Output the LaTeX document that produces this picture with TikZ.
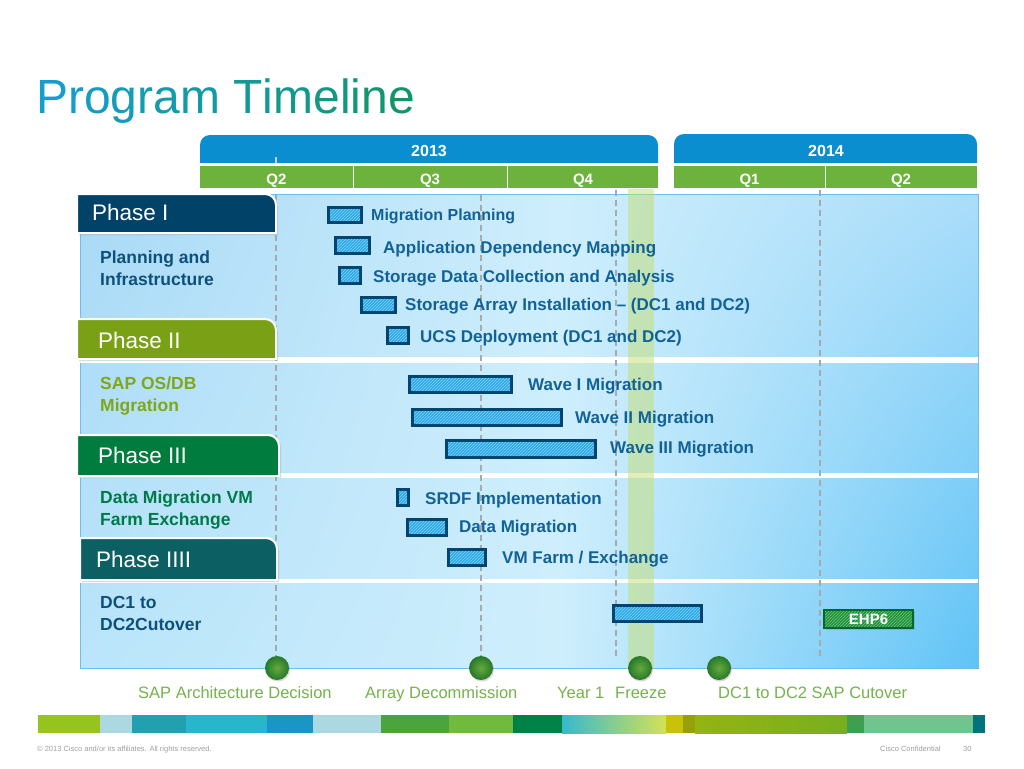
\documentclass[tikz,border=0pt]{standalone}
\usepackage{fontspec}
\setmainfont{Liberation Sans}
\usetikzlibrary{patterns,shadows,shadings}
\definecolor{ttl}{RGB}{20,158,205}
\definecolor{ttr}{RGB}{18,150,105}
\definecolor{headblue}{RGB}{10,142,208}
\definecolor{qgreen}{RGB}{110,178,62}
\definecolor{phaseA}{RGB}{0,66,104}
\definecolor{phaseB}{RGB}{122,160,22}
\definecolor{phaseC}{RGB}{0,124,62}
\definecolor{phaseD}{RGB}{12,96,100}
\definecolor{sectblue}{RGB}{14,80,124}
\definecolor{sectolive}{RGB}{128,168,22}
\definecolor{sectgreen}{RGB}{0,122,72}
\definecolor{taskblue}{RGB}{18,98,152}
\definecolor{barline}{RGB}{0,68,112}
\definecolor{barfill}{RGB}{40,168,232}
\definecolor{barhatch}{RGB}{140,212,245}
\definecolor{ehpfill}{RGB}{28,145,62}
\definecolor{ehpline}{RGB}{0,105,48}
\definecolor{ehphatch}{RGB}{120,195,120}
\definecolor{panelTL}{RGB}{168,217,246}
\definecolor{panelBL}{RGB}{186,229,250}
\definecolor{panelM}{RGB}{206,238,252}
\definecolor{panelTR}{RGB}{170,221,250}
\definecolor{panelBR}{RGB}{95,195,246}
\definecolor{panelEdge}{RGB}{110,190,235}
\definecolor{vgray}{RGB}{165,170,175}
\definecolor{freeze}{RGB}{196,222,112}
\definecolor{msin}{RGB}{100,170,62}
\definecolor{msout}{RGB}{40,120,42}
\definecolor{mstext}{RGB}{118,178,78}
\definecolor{foot}{RGB}{160,160,160}
\begin{document}
\begin{tikzpicture}[x=1pt,y=-1pt,
  hdr/.style={anchor=base, inner sep=0, text=white, font=\fontsize{16}{18}\selectfont\bfseries},
  qlab/.style={anchor=base, inner sep=0, text=white, font=\fontsize{15}{17}\selectfont\bfseries},
  phasebox/.style={draw=white, line width=2pt, drop shadow={opacity=0.3, shadow xshift=2pt, shadow yshift=-2pt}},
  phaselab/.style={anchor=base west, inner sep=0, text=white, font=\fontsize{22.5}{25}\selectfont},
  seclab/.style={anchor=base west, inner sep=0, font=\fontsize{17.5}{20}\selectfont\bfseries},
  tasklab/.style={anchor=base west, inner sep=0, text=taskblue, font=\fontsize{17}{20}\selectfont\bfseries},
  bar/.style={inner sep=0,
    drop shadow={opacity=0.35, shadow xshift=1.5pt, shadow yshift=-1.5pt},
    preaction={fill=barfill}, pattern=north east lines, pattern color=barhatch,
    postaction={draw=barline, line width=2.6pt}},
  ehpbar/.style={inner sep=0,
    drop shadow={opacity=0.35, shadow xshift=1.5pt, shadow yshift=-1.5pt},
    preaction={fill=ehpfill}, pattern=north east lines, pattern color=ehphatch,
    postaction={draw=ehpline, line width=2pt}},
  vdash/.style={draw=vgray, line width=1.4pt, dash pattern=on 6pt off 4pt},
  milestone/.style={circle, minimum size=24pt, inner sep=0, shading=radial,
    inner color=msin, outer color=msout,
    drop shadow={opacity=0.3, shadow xshift=1pt, shadow yshift=-1.5pt}},
  mslab/.style={anchor=base west, inner sep=0, text=mstext, font=\fontsize{16.5}{19}\selectfont},
  footlab/.style={anchor=base west, inner sep=0, text=foot, font=\fontsize{7.5}{9}\selectfont}
]
\fill[white] (0,0) rectangle (1024,768);
\useasboundingbox (0,0) rectangle (1024,768);

% title
\node[anchor=base west, inner sep=0, font=\fontsize{48}{52}\selectfont] (title) at (36,113)
{\textcolor{ttl!100!ttr}{P}\textcolor{ttl!94!ttr}{r}\textcolor{ttl!87!ttr}{o}\textcolor{ttl!80!ttr}{g}\textcolor{ttl!74!ttr}{r}\textcolor{ttl!67!ttr}{a}\textcolor{ttl!60!ttr}{m} \textcolor{ttl!47!ttr}{T}\textcolor{ttl!40!ttr}{i}\textcolor{ttl!33!ttr}{m}\textcolor{ttl!27!ttr}{e}\textcolor{ttl!20!ttr}{l}\textcolor{ttl!13!ttr}{i}\textcolor{ttl!7!ttr}{n}\textcolor{ttl!0!ttr}{e}};

% year headers
\fill[headblue, rounded corners=10pt] (200,163) -- (200,135) -- (658,135) -- (658,163);
\fill[headblue, rounded corners=10pt] (674,163) -- (674,134) -- (977,134) -- (977,163);
\node[hdr] (y2013) at (429,156) {2013};
\node[hdr] (y2014) at (826,156) {2014};

% quarter cells
\fill[qgreen] (200,166) rectangle (352.5,188);
\fill[qgreen] (354,166) rectangle (506.5,188);
\fill[qgreen] (508,166) rectangle (658,188);
\fill[qgreen] (674,166) rectangle (824.5,188);
\fill[qgreen] (826,166) rectangle (977,188);
\node[qlab] (q2a) at (276.5,184) {Q2};
\node[qlab] (q3) at (430,184) {Q3};
\node[qlab] (q4) at (583,184) {Q4};
\node[qlab] (q1) at (749.5,184) {Q1};
\node[qlab] (q2b) at (901,184) {Q2};

% panel
\shade[upper left=panelTL, lower left=panelBL, upper right=panelM, lower right=panelM] (80,194) rectangle (560,668);
\shade[upper left=panelM, lower left=panelM, upper right=panelTR, lower right=panelBR] (559.5,194) rectangle (978,668);
\draw[panelEdge, line width=0.8pt] (80,194) rectangle (978,668);
\fill[white] (80,357) rectangle (978,362.5);
\fill[white] (80,473) rectangle (978,478);
\fill[white] (80,579) rectangle (978,583);

% dashed quarter lines
\draw[draw=vgray!60, line width=1.2pt] (276,157) -- (276,163);
\draw[vdash] (276,195) -- (276,656);
\draw[vdash] (481,195) -- (481,656);
\draw[vdash] (616,190) -- (616,656);
\draw[vdash] (820,190) -- (820,656);

% freeze band
\fill[freeze, opacity=0.5] (628,189) rectangle (654,668);

% phase boxes
\path[phasebox, fill=phaseA] (77,233) -- (77,194) [rounded corners=11pt] -- (276,194) [sharp corners] -- (276,233) -- cycle;
\path[phasebox, fill=phaseB] (77,359) -- (77,319) [rounded corners=11pt] -- (276,319) [sharp corners] -- (276,359) -- cycle;
\path[phasebox, fill=phaseC] (77,476) -- (77,435) [rounded corners=11pt] -- (279,435) [sharp corners] -- (279,476) -- cycle;
\path[phasebox, fill=phaseD] (80,580) -- (80,538) [rounded corners=11pt] -- (277,538) [sharp corners] -- (277,580) -- cycle;
\node[phaselab] (p1) at (92,220) {Phase I};
\node[phaselab] (p2) at (98,348) {Phase II};
\node[phaselab] (p3) at (98,463) {Phase III};
\node[phaselab] (p4) at (96,567) {Phase IIII};

% section labels
\node[seclab, text=sectblue] (s1a) at (100,263) {Planning and};
\node[seclab, text=sectblue] (s1b) at (100,285) {Infrastructure};
\node[seclab, text=sectolive] (s2a) at (100,389) {SAP OS/DB};
\node[seclab, text=sectolive] (s2b) at (100,411) {Migration};
\node[seclab, text=sectgreen] (s3a) at (100,503) {Data Migration VM};
\node[seclab, text=sectgreen] (s3b) at (100,525) {Farm Exchange};
\node[seclab, text=sectblue] (s4a) at (100,608) {DC1 to};
\node[seclab, text=sectblue] (s4b) at (100,630) {DC2Cutover};

% task bars
\node[bar, minimum width=33pt, minimum height=15pt] (b1) at (345,215) {};
\node[bar, minimum width=34pt, minimum height=16pt] (b2) at (352.5,245.5) {};
\node[bar, minimum width=21pt, minimum height=16pt] (b3) at (350,275.5) {};
\node[bar, minimum width=34pt, minimum height=15pt] (b4) at (378.5,305) {};
\node[bar, minimum width=21pt, minimum height=16pt] (b5) at (398,335.5) {};
\node[bar, minimum width=102pt, minimum height=16pt] (b6) at (460.5,384.5) {};
\node[bar, minimum width=149pt, minimum height=16pt] (b7) at (487,417.5) {};
\node[bar, minimum width=149pt, minimum height=17pt] (b8) at (521,449) {};
\node[bar, minimum width=11pt, minimum height=16pt] (b9) at (403,497.5) {};
\node[bar, minimum width=39pt, minimum height=16pt] (b10) at (427,527.5) {};
\node[bar, minimum width=37pt, minimum height=16pt] (b11) at (467,557.5) {};
\node[bar, minimum width=88pt, minimum height=16pt] (b12) at (657.5,613.5) {};
\node[ehpbar, minimum width=89pt, minimum height=18pt, text=white, font=\fontsize{15}{17}\selectfont\bfseries] (b13) at (868.5,619) {EHP6};

% task labels
\node[tasklab, font=\fontsize{16}{19}\selectfont\bfseries] (t1) at (371,220) {Migration Planning};
\node[tasklab] (t2) at (383,253) {Application Dependency Mapping};
\node[tasklab] (t3) at (373,282) {Storage Data Collection and Analysis};
\node[tasklab] (t4) at (405,310) {Storage Array Installation – (DC1 and DC2)};
\node[tasklab] (t5) at (420,342) {UCS Deployment (DC1 and DC2)};
\node[tasklab] (t6) at (528,390) {Wave I Migration};
\node[tasklab] (t7) at (575,423) {Wave II Migration};
\node[tasklab] (t8) at (610,453) {Wave III Migration};
\node[tasklab] (t9) at (425,504) {SRDF Implementation};
\node[tasklab] (t10) at (459,532) {Data Migration};
\node[tasklab] (t11) at (502,563) {VM Farm / Exchange};

% milestones
\node[milestone] (m1) at (277,668) {};
\node[milestone] (m2) at (481,668) {};
\node[milestone] (m3) at (640,668) {};
\node[milestone] (m4) at (719,668) {};
\node[mslab] (ml1) at (138,698) {SAP Architecture Decision};
\node[mslab] (ml2) at (365,698) {Array Decommission};
\node[mslab] (ml3) at (557,698) {Year 1};
\node[mslab] (ml4) at (615,698) {Freeze};
\node[mslab] (ml5) at (718,698) {DC1 to DC2 SAP Cutover};

% bottom colour strip
\fill[fill={rgb,255:red,150;green,195;blue,30}] (38,715) rectangle (100,733);
\fill[fill={rgb,255:red,172;green,216;blue,226}] (100,715) rectangle (132,733);
\fill[fill={rgb,255:red,35;green,160;blue,175}] (132,715) rectangle (186,733);
\fill[fill={rgb,255:red,40;green,182;blue,205}] (186,715) rectangle (267,733);
\fill[fill={rgb,255:red,25;green,150;blue,195}] (267,715) rectangle (313,733);
\fill[fill={rgb,255:red,172;green,216;blue,226}] (313,715) rectangle (381,733);
\fill[fill={rgb,255:red,75;green,165;blue,60}] (381,715) rectangle (449,733);
\fill[fill={rgb,255:red,112;green,187;blue,62}] (449,715) rectangle (513,733);
\fill[fill={rgb,255:red,0;green,130;blue,70}] (513,715) rectangle (562,733);
\shade[left color={rgb,255:red,55;green,185;blue,205}, right color={rgb,255:red,212;green,226;blue,85}] (562,715) rectangle (666,733);
\fill[fill={rgb,255:red,200;green,195;blue,10}] (666,715) rectangle (683,733);
\fill[fill={rgb,255:red,150;green,160;blue,10}] (683,715) rectangle (695,733);
\shade[left color={rgb,255:red,148;green,180;blue,18}, right color={rgb,255:red,120;green,175;blue,30}] (695,715) rectangle (847,733);
\fill[fill={rgb,255:red,60;green,160;blue,80}] (847,715) rectangle (864,733);
\fill[fill={rgb,255:red,112;green,196;blue,142}] (864,715) rectangle (973,733);
\fill[fill={rgb,255:red,0;green,115;blue,125}] (973,715) rectangle (985,733);

% footer
\node[footlab] (copy) at (37,751) {© 2013 Cisco and/or its affiliates. All rights reserved.};
\node[footlab] (conf) at (880,751) {Cisco Confidential};
\node[footlab] (pg) at (963,751) {30};
\end{tikzpicture}
\end{document}
